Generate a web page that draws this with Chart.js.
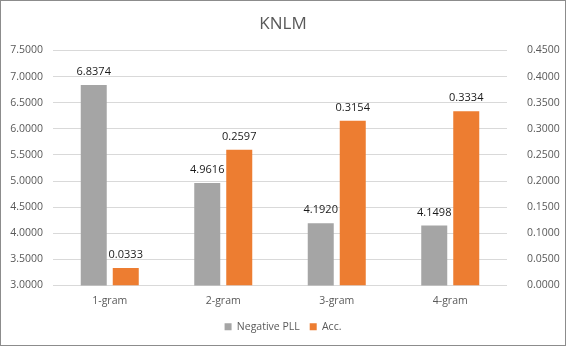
<!DOCTYPE html>
<html>
<head>
<meta charset="utf-8">
<script src="https://cdn.jsdelivr.net/npm/chart.js@4.4.1/dist/chart.umd.min.js"></script>
<style>
  html, body { margin: 0; padding: 0; background: #fff; }
  #frame { width: 566px; height: 346px; box-sizing: border-box; border: 1px solid #8C8C8C; }
  #frame canvas { display: block; }
</style>
</head>
<body>
<div id="frame"><canvas id="c" width="564" height="344"></canvas></div>
<script>
// n-gram order of each model
const categories = ['1-gram', '2-gram', '3-gram', '4-gram'];
// negative pseudo log-likelihood (left axis)
const negativePLL = [6.8374, 4.9616, 4.1920, 4.1498];
// accuracy (right axis)
const accuracy = [0.0333, 0.2597, 0.3154, 0.3334];
// axis ranges
const leftAxis = { min: 3.0, max: 7.5, step: 0.5 };
const rightAxis = { min: 0.0, max: 0.45, step: 0.05 };

const FONT = '"Open Sans", "Noto Sans", sans-serif';
const TEXT = '#595959';

// writes each bar's value above it
const valueLabels = {
  id: 'valueLabels',
  afterDatasetsDraw(chart) {
    const ctx = chart.ctx;
    ctx.save();
    ctx.font = '11px ' + FONT;
    ctx.fillStyle = '#1a1a1a';
    ctx.textAlign = 'center';
    ctx.textBaseline = 'middle';
    chart.data.datasets.forEach((ds, i) => {
      const meta = chart.getDatasetMeta(i);
      meta.data.forEach((bar, j) => {
        ctx.fillText(ds.data[j].toFixed(4), bar.x, bar.y - 13);
      });
    });
    ctx.restore();
  }
};

new Chart(document.getElementById('c'), {
  type: 'bar',
  data: {
    labels: categories,
    datasets: [
      {
        label: 'Negative PLL',
        data: negativePLL,
        backgroundColor: '#A5A5A5',
        yAxisID: 'y',
        categoryPercentage: 0.564,
        barPercentage: 0.8125
      },
      {
        label: 'Acc.',
        data: accuracy,
        backgroundColor: '#ED7D31',
        yAxisID: 'y1',
        categoryPercentage: 0.564,
        barPercentage: 0.8125
      }
    ]
  },
  options: {
    responsive: false,
    animation: false,
    layout: { padding: { left: 0, right: 0, top: 0, bottom: 3 } },
    plugins: {
      title: {
        display: true,
        text: 'KNLM',
        color: TEXT,
        font: { family: FONT, size: 17, weight: 'normal' },
        padding: { top: 13, bottom: 16 }
      },
      legend: {
        position: 'bottom',
        labels: {
          color: TEXT,
          font: { family: FONT, size: 10.5 },
          boxWidth: 7,
          boxHeight: 7,
          padding: 10
        }
      },
      tooltip: { enabled: false }
    },
    scales: {
      x: {
        grid: { display: false, drawTicks: false, tickLength: 0 },
        border: { display: false },
        ticks: { color: TEXT, font: { family: FONT, size: 10.5 }, padding: 9 },
        afterFit(scale) { scale.height = 26; }
      },
      y: {
        position: 'left',
        min: leftAxis.min,
        max: leftAxis.max,
        grid: { color: '#D9D9D9', drawTicks: false },
        border: { display: false },
        ticks: {
          stepSize: leftAxis.step,
          color: TEXT,
          font: { family: FONT, size: 10.5 },
          padding: 10,
          callback: v => Number(v).toFixed(4)
        },
        afterFit(scale) { scale.width = 52; }
      },
      y1: {
        position: 'right',
        min: rightAxis.min,
        max: rightAxis.max,
        grid: { display: false },
        border: { display: false },
        ticks: {
          stepSize: rightAxis.step,
          color: TEXT,
          font: { family: FONT, size: 10.5 },
          padding: 12,
          callback: v => Number(v).toFixed(4)
        },
        afterFit(scale) { scale.width = 58; }
      }
    }
  },
  plugins: [valueLabels]
});
</script>
</body>
</html>
